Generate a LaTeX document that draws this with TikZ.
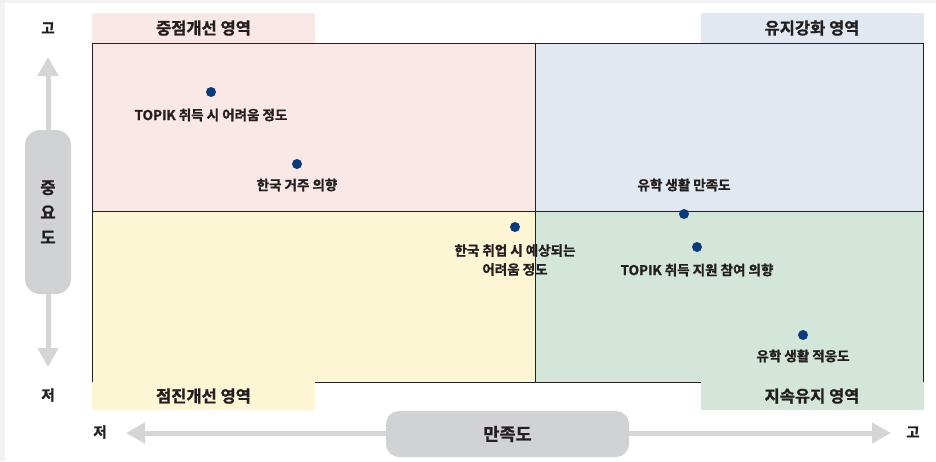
\documentclass[tikz,border=0pt]{standalone}
\usepackage{fontspec}
\setmainfont{Noto Sans CJK KR}[BoldFont={* Bold}, BoldFeatures={FakeBold=1.2}]
\usetikzlibrary{arrows.meta}
\definecolor{outerbg}{HTML}{F2F2F2}
\definecolor{pinkq}{HTML}{F9E8E5}
\definecolor{blueq}{HTML}{E2E8F2}
\definecolor{yellowq}{HTML}{FDF6D5}
\definecolor{greenq}{HTML}{D4E6D9}
\definecolor{pillgray}{HTML}{D1D2D4}
\definecolor{arrowgray}{HTML}{D5D5D7}
\definecolor{dotblue}{HTML}{0B3A7C}
\definecolor{txt}{HTML}{231F20}
\begin{document}
\begin{tikzpicture}[x=1pt,y=-1pt,
  every node/.style={text=txt, font=\bfseries},
  band/.style={minimum width=223pt, inner sep=0pt, font=\bfseries\fontsize{16.5}{18}\selectfont},
  gridline/.style={draw=txt, line width=0.9pt},
  dot/.style={circle, fill=dotblue, minimum size=10pt, inner sep=0pt},
  lbl/.style={font=\bfseries\fontsize{13.5}{19}\selectfont, align=center, inner sep=0pt},
  axlbl/.style={font=\bfseries\fontsize{14.5}{16}\selectfont, inner sep=0pt},
  pill/.style={fill=pillgray, inner sep=0pt},
  axisarrow/.style={draw=arrowgray, line width=5pt, -{Triangle[width=20pt,length=19pt]}}
]
\useasboundingbox (0,0) rectangle (936,461);
\fill[outerbg] (0,0) rectangle (936,461);
\fill[white] (5,3) rectangle (936,461);
% quadrants
\fill[pinkq] (92,43) rectangle (535,211);
\fill[blueq] (535,43) rectangle (923,211);
\fill[yellowq] (92,211) rectangle (535,382);
\fill[greenq] (535,211) rectangle (923,382);
\draw[gridline] (92,43) rectangle (923,382);
\draw[gridline] (535,43) -- (535,382);
\draw[gridline] (92,211) -- (923,211);
% bands
\node[band, fill=pinkq, minimum height=30pt] (b1) at (203.5,28) {중점개선 영역};
\node[band, fill=blueq, minimum height=30pt] (b2) at (812,28) {유지강화 영역};
\node[band, fill=yellowq, minimum height=28pt] (b3) at (203.5,396) {점진개선 영역};
\node[band, fill=greenq, minimum height=28pt] (b4) at (812,396) {지속유지 영역};
% y axis
\node[axlbl] (yhi) at (48,28) {고};
\node[axlbl] (ylo) at (48,395) {저};
\node[pill, minimum width=46pt, minimum height=164pt, rounded corners=15pt,
      align=center, font=\bfseries\fontsize{16.5}{25}\selectfont] (yp) at (48,212) {중\\요\\도};
\coordinate (ytop) at (48,57);
\coordinate (ybot) at (48,367);
\draw[axisarrow] (yp.north) -- (ytop);
\draw[axisarrow] (yp.south) -- (ybot);
% x axis
\node[axlbl] (xlo) at (100,432) {저};
\node[axlbl] (xhi) at (913,432) {고};
\node[pill, minimum width=243pt, minimum height=46pt, rounded corners=13pt,
      font=\bfseries\fontsize{17.5}{18}\selectfont] (xp) at (507.5,434) {만족도};
\coordinate (xleft) at (126,433);
\coordinate (xright) at (891,433);
\draw[axisarrow] (xp.west |- xleft) -- (xleft);
\draw[axisarrow] (xp.east |- xright) -- (xright);
% points
\node[dot] (p1) at (211,92) {};
\node[lbl] (l1) at (211,115) {TOPIK 취득 시 어려움 정도};
\node[dot] (p2) at (297,164) {};
\node[lbl] (l2) at (297,185) {한국 거주 의향};
\node[dot] (p3) at (515,227) {};
\node[lbl] (l3) at (515,260) {한국 취업 시 예상되는\\어려움 정도};
\node[dot] (p4) at (684,214) {};
\node[lbl] (l4) at (684,185) {유학 생활 만족도};
\node[dot] (p5) at (697,247) {};
\node[lbl] (l5) at (697,270) {TOPIK 취득 지원 참여 의향};
\node[dot] (p6) at (803,335) {};
\node[lbl] (l6) at (803,356) {유학 생활 적응도};
\end{tikzpicture}
\end{document}
